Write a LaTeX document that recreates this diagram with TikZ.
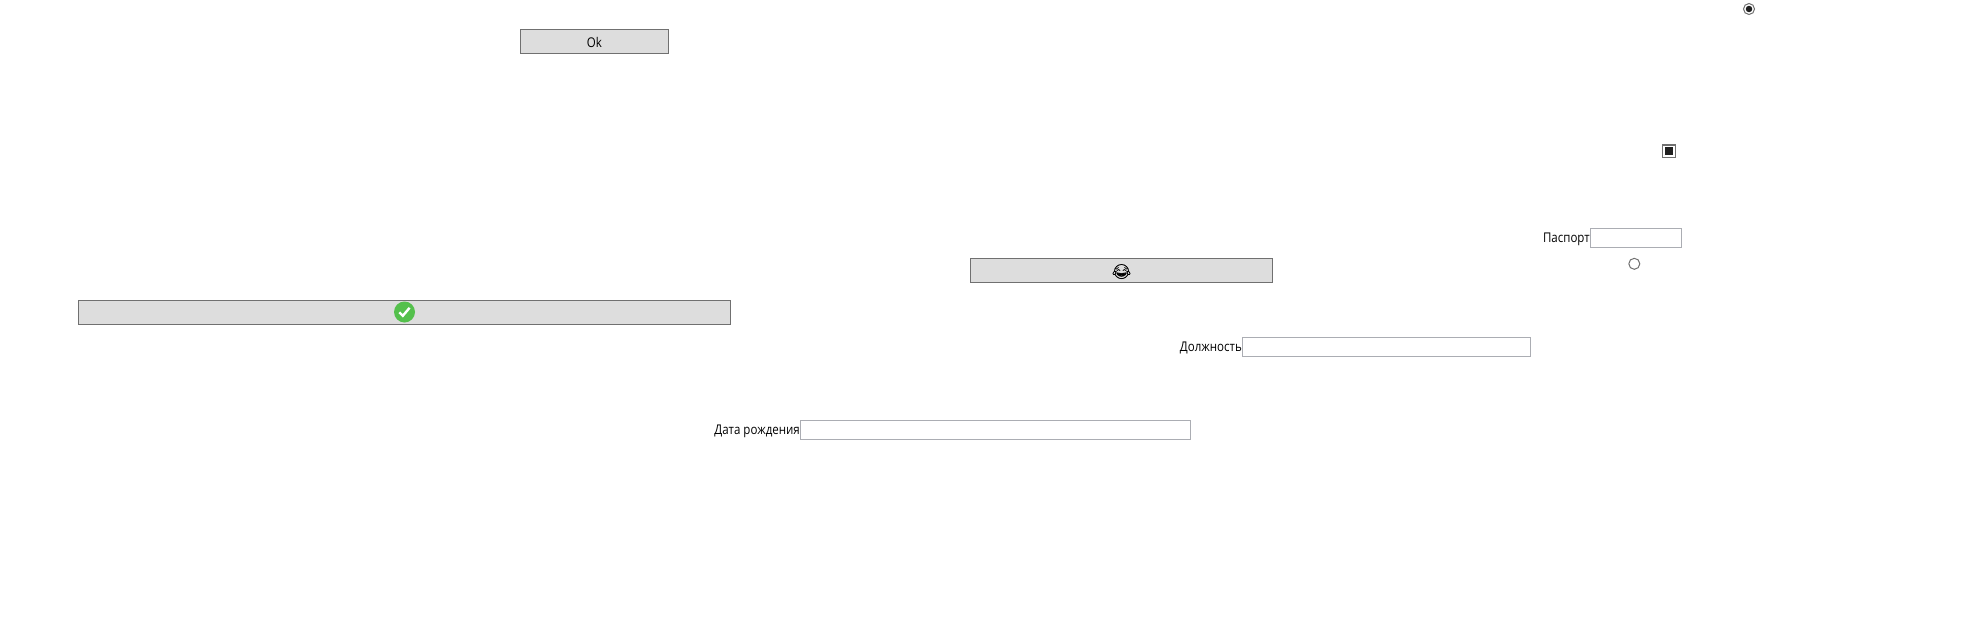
\documentclass[tikz,border=0pt]{standalone}
\usepackage{fontspec}
\usepackage{tikz}
\usetikzlibrary{positioning}
\setmainfont{Open Sans}[FakeStretch=0.86]
\newfontfamily\emojifont[FakeBold=1.2]{Noto Emoji}
\definecolor{btnfill}{HTML}{DDDDDD}
\definecolor{btnline}{HTML}{707070}
\definecolor{boxline}{HTML}{ABADB3}
\definecolor{markdark}{HTML}{202020}
\definecolor{okgreen}{HTML}{54C04C}
\begin{document}
\begin{tikzpicture}[x=1pt, y=-1pt, font=\fontsize{13.4}{16}\selectfont,
	btn/.style={draw=btnline, fill=btnfill, line width=1pt, minimum height=24pt, inner sep=0pt},
	field/.style={draw=boxline, line width=1pt, minimum height=19pt, inner sep=0pt},
	fieldlabel/.style={inner sep=0pt, yshift=-1.5pt},
	radiobtn/.style={circle, draw=btnline, line width=1pt, minimum size=11pt, inner sep=0pt},
	radiodot/.style={circle, fill=markdark, minimum size=6.5pt, inner sep=0pt}]
\useasboundingbox (0,0) rectangle (1976,637);
% buttons
\node [btn, minimum width=148pt, text height=12pt, text depth=0pt] (okbtn) at (594.5, 41.5) {Ok};
\node [btn, minimum width=302pt, text height=12pt, text depth=0pt] (smilebtn) at (1121.5, 270.5) {\emojifont\fontsize{14.5}{15}\selectfont\symbol{"1F602}};
\node [btn, minimum width=652pt] (checkbtn) at (404.5, 312) {};
\node [circle, fill=okgreen, minimum size=21pt, inner sep=0pt] (checkmark) at (404.5, 312) {};
\draw [white, line width=2.4pt] (399.3, 312.3) -- (402.8, 315.8) -- (409.6, 307.8);
% radios and square
\node [radiobtn] (radioon) at (1749, 9) {};
\node [radiodot] (radiomark) at (1749, 9) {};
\node [draw=btnline, line width=1.2pt, minimum size=12.5pt, inner sep=0pt] (squarebox) at (1669, 151.3) {};
\node [fill=markdark, minimum size=8pt, inner sep=0pt] (squaremark) at (1669, 151.3) {};
\node [radiobtn] (radiooff) at (1634.3, 263.8) {};
% fields
\node [field, minimum width=91pt] (passbox) at (1636, 237.5) {};
\node [fieldlabel, left=0pt of passbox] (passlabel) {Паспорт};
\node [field, minimum width=288pt] (postbox) at (1386.5, 346.5) {};
\node [fieldlabel, left=0pt of postbox] (postlabel) {Должность};
\node [field, minimum width=390pt] (datebox) at (995.5, 429.5) {};
\node [fieldlabel, left=0pt of datebox] (datelabel) {Дата рождения};
\end{tikzpicture}
\end{document}
